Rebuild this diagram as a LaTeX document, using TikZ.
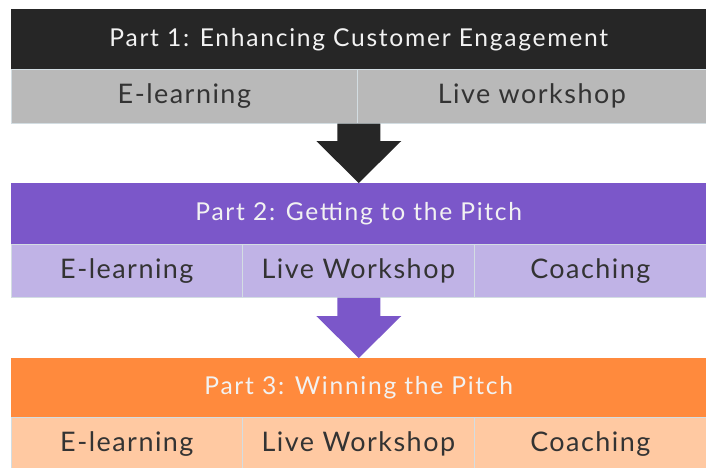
\documentclass[tikz,border=0pt]{standalone}
\usepackage{fontspec}
\setmainfont{Lato}
\usetikzlibrary{calc}

\definecolor{partone}{HTML}{262626}
\definecolor{rowone}{HTML}{B9B9B9}
\definecolor{parttwo}{HTML}{7B57C9}
\definecolor{rowtwo}{HTML}{C0B3E6}
\definecolor{partthree}{HTML}{FF8A3D}
\definecolor{rowthree}{HTML}{FFC9A2}
\definecolor{edge}{HTML}{D3DDE2}
\definecolor{celltext}{HTML}{333333}

% block arrow from the bottom of one row to the top of the next bar
\newcommand{\blockarrow}[3]{
\fill[#1] ($(#2)+(-21.5,0)$) -- ($(#2)+(21.5,0)$) -- ($(#3)+(21.5,-42)$)
  -- ($(#3)+(42.5,-42)$) -- (#3) -- ($(#3)+(-42.5,-42)$)
  -- ($(#3)+(-21.5,-42)$) -- cycle;
}

\begin{document}
\begin{tikzpicture}[x=0.03cm,y=-0.03cm,
  bar/.style={anchor=north west, minimum width=20.85cm, inner sep=0,
    text=white!95!black, font=\fontsize{21}{25}\selectfont\addfontfeatures{LetterSpace=7}},
  cell/.style={anchor=north west, minimum height=1.62cm, inner sep=0,
    draw=edge, line width=0.6pt, text=celltext,
    font=\fontsize{23}{27}\selectfont\addfontfeatures{LetterSpace=5.5}}]
\useasboundingbox (0,0) rectangle (706,467);

% Part 1
\node[bar, fill=partone, minimum height=1.8cm] (p1) at (11,9) {Part 1: Enhancing Customer Engagement};
\node[cell, fill=rowone, minimum width=10.38cm] (p1a) at (11,69) {E-learning};
\node[cell, fill=rowone, minimum width=10.47cm] (p1b) at (357,69) {Live workshop};

% Part 2
\node[bar, fill=parttwo, minimum height=1.83cm] (p2) at (11,183) {Part 2: Getting to the Pitch};
\node[cell, fill=rowtwo, minimum width=6.93cm, minimum height=1.59cm] (p2a) at (11,244) {E-learning};
\node[cell, fill=rowtwo, minimum width=6.96cm, minimum height=1.59cm] (p2b) at (242,244) {Live Workshop};
\node[cell, fill=rowtwo, minimum width=6.96cm, minimum height=1.59cm] (p2c) at (474,244) {Coaching};

% Part 3
\node[bar, fill=partthree, minimum height=1.77cm] (p3) at (11,358) {Part 3: Winning the Pitch};
\node[cell, fill=rowthree, minimum width=6.93cm] (p3a) at (11,417) {E-learning};
\node[cell, fill=rowthree, minimum width=6.96cm] (p3b) at (242,417) {Live Workshop};
\node[cell, fill=rowthree, minimum width=6.96cm] (p3c) at (474,417) {Coaching};

% arrows between the parts
\coordinate (a1) at (p1.south |- p1a.south);
\coordinate (a2) at (p2.south |- p2a.south);
\blockarrow{partone}{a1}{p2.north}
\blockarrow{parttwo}{a2}{p3.north}

\end{tikzpicture}
\end{document}
